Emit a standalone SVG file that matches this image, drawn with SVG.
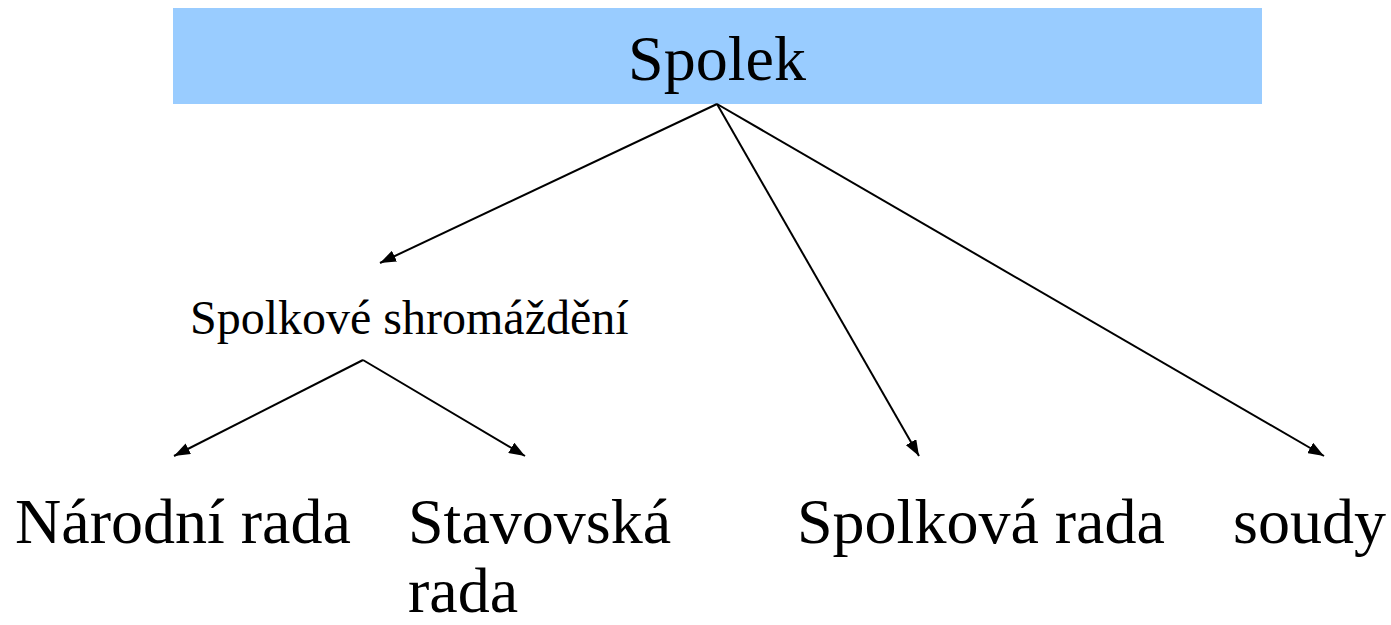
<svg xmlns="http://www.w3.org/2000/svg" width="1391" height="625" viewBox="0 0 1391 625">
<style>
.big{font-size:64px}
.mid{font-size:48px}
.c line{stroke:#000;stroke-width:2;fill:none}
</style>
<defs>
<marker id="ah" viewBox="0 0 16 12" refX="16" refY="6" markerWidth="16" markerHeight="12" markerUnits="userSpaceOnUse" orient="auto">
<path d="M0,0 L16,6 L0,12 Z" fill="#000"/>
</marker>
</defs>
<rect width="1391" height="625" fill="#fff"/>
<g font-family="Liberation Serif, Times New Roman, DejaVu Serif, serif" fill="#000">
<g id="spolek">
<rect x="173" y="8" width="1089" height="96" fill="#99CCFF"/>
<text class="big" x="717" y="80" text-anchor="middle">Spolek</text>
</g>
<g id="shromazdeni">
<text class="mid" x="190" y="334">Spolkové shromáždění</text>
</g>
<g id="narodni">
<text class="big" x="15" y="543">Národní rada</text>
</g>
<g id="stavovska">
<text class="big" x="408" y="543">Stavovská</text>
<text class="big" x="408" y="612">rada</text>
</g>
<g id="spolkova">
<text class="big" x="797" y="543">Spolková rada</text>
</g>
<g id="soudy">
<text class="big" x="1233" y="543">soudy</text>
</g>
</g>
<g id="connectors" class="c">
<line x1="717" y1="104" x2="380" y2="263" marker-end="url(#ah)"/>
<line x1="717" y1="104" x2="919" y2="456" marker-end="url(#ah)"/>
<line x1="717" y1="104" x2="1324" y2="456" marker-end="url(#ah)"/>
<line x1="363" y1="360" x2="174" y2="456" marker-end="url(#ah)"/>
<line x1="363" y1="360" x2="525" y2="456" marker-end="url(#ah)"/>
</g>
</svg>
